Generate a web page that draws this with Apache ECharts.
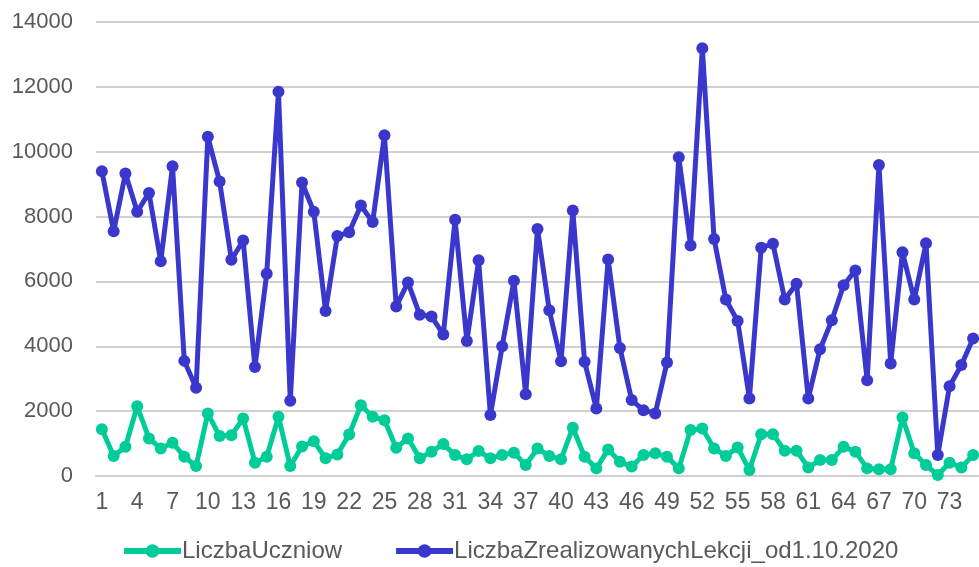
<!DOCTYPE html>
<html>
<head>
<meta charset="utf-8">
<script src="https://cdn.jsdelivr.net/npm/echarts@6/dist/echarts.min.js"></script>
<style>
  html, body { margin: 0; padding: 0; background: #fff; }
  #main { width: 979px; height: 567px; }
</style>
</head>
<body>
<div id="main"></div>
<script>
var chart = echarts.init(document.getElementById('main'));

// numery szkół 1..75 (wykres ucięty z prawej)
var categories = [];
for (var i = 1; i <= 75; i++) categories.push(String(i));

var liczbaUczniow = [
  1440, 615, 900, 2150, 1160, 850, 1025, 595, 310, 1930,
  1230, 1260, 1775, 410, 595, 1825, 310, 910, 1075, 545,
  665, 1280, 2180, 1825, 1720, 870, 1160, 545, 750, 985,
  645, 515, 770, 545, 645, 720, 340, 850, 615, 515,
  1490, 595, 235, 820, 440, 290, 645, 700, 595, 235,
  1415, 1465, 850, 620, 880, 185, 1290, 1290, 780, 780,
  265, 490, 490, 900, 750, 235, 205, 205, 1805, 700,
  340, 30, 410, 265, 645
];

var liczbaLekcji = [
  9400, 7550, 9330, 8150, 8730, 6620, 9550, 3550, 2720, 10460,
  9080, 6670, 7260, 3360, 6240, 11850, 2320, 9050, 8150, 5090,
  7400, 7520, 8340, 7830, 10510, 5230, 5970, 4970, 4920, 4360,
  7900, 4160, 6650, 1880, 4000, 6020, 2520, 7620, 5110, 3540,
  8190, 3520, 2080, 6680, 3950, 2340, 2030, 1930, 3500, 9830,
  7110, 13190, 7310, 5440, 4780, 2390, 7040, 7160, 5440, 5930,
  2390, 3910, 4800, 5880, 6340, 2950, 9590, 3470, 6900, 5440,
  7180, 650, 2770, 3420, 4240
];

var seriesNames = ['LiczbaUczniow', 'LiczbaZrealizowanychLekcji_od1.10.2020'];
var colors = ['#00cc99', '#3a38cc'];

function lineSeries(name, color, data) {
  return {
    name: name,
    type: 'line',
    data: data,
    symbol: 'circle',
    symbolSize: 12,
    showSymbol: true,
    showAllSymbol: true,
    itemStyle: { color: color },
    lineStyle: { color: color, width: 5 },
    animation: false
  };
}

var option = {
  backgroundColor: '#fff',
  color: colors,
  grid: {
    left: 96,
    right: -5,
    top: 22,
    bottom: 91
  },
  legend: {
    left: 116,
    top: 534,
    itemWidth: 57,
    itemHeight: 17,
    itemGap: 51,
    lineStyle: { width: 6 },
    textStyle: {
      color: '#595959',
      fontSize: 24,
      fontFamily: 'Liberation Sans, Arial, sans-serif',
      padding: [0, 0, 0, -4]
    },
    data: seriesNames
  },
  xAxis: {
    type: 'category',
    boundaryGap: true,
    data: categories,
    axisTick: { show: false },
    axisLine: { show: true, lineStyle: { color: '#d0d0d0', width: 2 } },
    axisLabel: {
      interval: 2,
      margin: 15,
      color: '#595959',
      fontSize: 23,
      fontFamily: 'Liberation Sans, Arial, sans-serif'
    },
    splitLine: { show: false }
  },
  yAxis: {
    type: 'value',
    min: 0,
    max: 14000,
    interval: 2000,
    axisLine: { show: false },
    axisTick: { show: false },
    axisLabel: {
      margin: 23,
      color: '#595959',
      fontSize: 22,
      fontFamily: 'Liberation Sans, Arial, sans-serif',
      formatter: function (v) { return String(v); }
    },
    splitLine: { lineStyle: { color: '#d0d0d0', width: 2 } }
  },
  series: [
    lineSeries(seriesNames[0], colors[0], liczbaUczniow),
    lineSeries(seriesNames[1], colors[1], liczbaLekcji)
  ]
};

chart.setOption(option);
</script>
</body>
</html>
